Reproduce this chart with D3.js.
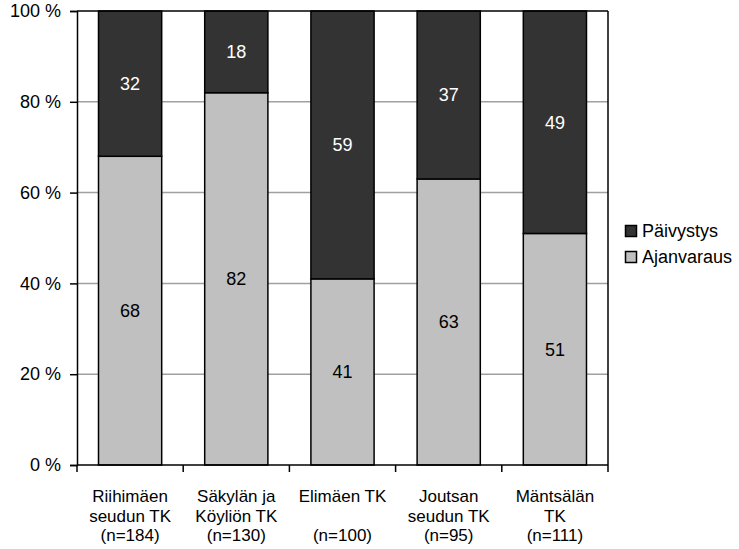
<!DOCTYPE html>
<html>
<head>
<meta charset="utf-8">
<script src="https://cdn.jsdelivr.net/npm/d3@7"></script>
<style>
  html, body { margin: 0; padding: 0; background: #fff; }
  svg text { font-family: Arial, "Liberation Sans", sans-serif; }
</style>
</head>
<body>
<svg id="chart" width="739" height="549"></svg>
<script>
// Category labels (each line of a label is its own entry)
const categories = [
  ["Riihimäen", "seudun TK", "(n=184)"],
  ["Säkylän ja", "Köyliön TK", "(n=130)"],
  ["Elimäen TK", "", "(n=100)"],
  ["Joutsan", "seudun TK", "(n=95)"],
  ["Mäntsälän", "TK", "(n=111)"]
];
const ajanvaraus = [68, 82, 41, 63, 51];
const paivystys = [32, 18, 59, 37, 49];
const seriesNames = ["Päivystys", "Ajanvaraus"];
const yTicks = [0, 20, 40, 60, 80, 100];

const colors = { "Ajanvaraus": "#c0c0c0", "Päivystys": "#333333" };
const FONT = "Arial, 'Liberation Sans', sans-serif";

const svg = d3.select("#chart");
const m = { left: 77, top: 11, right: 608, bottom: 465 };

const x = d3.scaleBand()
  .domain(d3.range(categories.length))
  .range([m.left, m.right])
  .paddingInner(0.405)
  .paddingOuter(0.2025);

const y = d3.scaleLinear().domain([0, 100]).range([m.bottom, m.top]);

// Gridlines
svg.append("g")
  .selectAll("line")
  .data(yTicks.filter(t => t > 0 && t < 100))
  .join("line")
  .attr("x1", m.left).attr("x2", m.right)
  .attr("y1", d => y(d)).attr("y2", d => y(d))
  .attr("stroke", "#a0a0a0").attr("stroke-width", 1.5);

// Stacked bars
const stackData = categories.map((c, i) => ({ i, Ajanvaraus: ajanvaraus[i], "Päivystys": paivystys[i] }));
const stack = d3.stack().keys(["Ajanvaraus", "Päivystys"])(stackData);

const layers = svg.append("g").selectAll("g")
  .data(stack)
  .join("g")
  .attr("fill", d => colors[d.key]);

layers.selectAll("rect")
  .data(d => d)
  .join("rect")
  .attr("x", d => x(d.data.i))
  .attr("width", x.bandwidth())
  .attr("y", d => y(d[1]))
  .attr("height", d => y(d[0]) - y(d[1]))
  .attr("stroke", "#000")
  .attr("stroke-width", 1.5);

// Value labels
stack.forEach(layer => {
  svg.append("g").selectAll("text")
    .data(layer)
    .join("text")
    .attr("x", d => x(d.data.i) + x.bandwidth() / 2)
    .attr("y", d => (y(d[0]) + y(d[1])) / 2)
    .attr("dy", "0.35em")
    .attr("text-anchor", "middle")
    .attr("font-size", 18)
    .attr("fill", layer.key === "Päivystys" ? "#fff" : "#000")
    .text(d => d[1] - d[0]);
});

// Frame: top and right border
svg.append("line")
  .attr("x1", m.left).attr("x2", m.right)
  .attr("y1", m.top).attr("y2", m.top)
  .attr("stroke", "#000").attr("stroke-width", 1.5);
svg.append("line")
  .attr("x1", m.right).attr("x2", m.right)
  .attr("y1", m.top).attr("y2", m.bottom)
  .attr("stroke", "#000").attr("stroke-width", 1.5);

// Y axis
const yAxis = d3.axisLeft(y)
  .tickValues(yTicks)
  .tickSize(7)
  .tickPadding(9)
  .tickFormat(d => d + " %");
const gy = svg.append("g")
  .attr("transform", `translate(${m.left},0)`)
  .call(yAxis);
gy.select(".domain").attr("stroke", "#000").attr("stroke-width", 1.5);
gy.selectAll(".tick line").attr("stroke", "#000").attr("stroke-width", 1.5);
gy.selectAll(".tick text").attr("font-size", 18).attr("fill", "#000")
  .attr("font-family", FONT);

// X axis: ticks on category boundaries
const bounds = d3.range(categories.length + 1).map(i => m.left + i * (m.right - m.left) / categories.length);
svg.append("line")
  .attr("x1", m.left).attr("x2", m.right)
  .attr("y1", m.bottom).attr("y2", m.bottom)
  .attr("stroke", "#000").attr("stroke-width", 1.5);
svg.append("g").selectAll("line")
  .data(bounds)
  .join("line")
  .attr("x1", d => d).attr("x2", d => d)
  .attr("y1", m.bottom).attr("y2", m.bottom + 7)
  .attr("stroke", "#000").attr("stroke-width", 1.5);

// Category labels
const catG = svg.append("g");
categories.forEach((lines, i) => {
  const cx = x(i) + x.bandwidth() / 2;
  const t = catG.append("text")
    .attr("text-anchor", "middle")
    .attr("font-size", 17)
    .attr("fill", "#000");
  lines.forEach((ln, k) => {
    t.append("tspan")
      .attr("x", cx)
      .attr("y", 502 + k * 19.5)
      .text(ln);
  });
});

// Legend
const legend = svg.append("g");
seriesNames.forEach((name, k) => {
  const ly = 231 + k * 26;
  legend.append("rect")
    .attr("x", 625.5).attr("y", ly - 5.5)
    .attr("width", 11).attr("height", 11)
    .attr("fill", colors[name])
    .attr("stroke", "#000").attr("stroke-width", 1.5);
  legend.append("text")
    .attr("x", 642).attr("y", ly)
    .attr("dy", "0.35em")
    .attr("font-size", 18)
    .attr("fill", "#000")
    .text(name);
});
</script>
</body>
</html>
